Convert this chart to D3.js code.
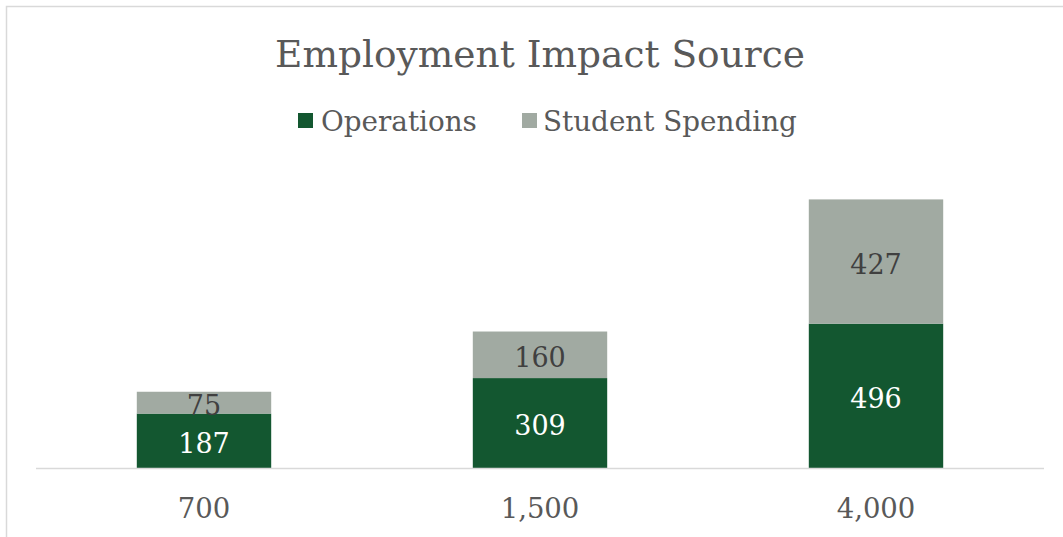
<!DOCTYPE html>
<html>
<head>
<meta charset="utf-8">
<script src="https://cdn.jsdelivr.net/npm/d3@7"></script>
<style>
  html, body { margin: 0; padding: 0; background: #ffffff; }
  svg { display: block; }
  text { font-family: "DejaVu Serif", "Liberation Serif", serif; }
</style>
</head>
<body>
<svg id="chart" width="1063" height="537"></svg>
<script>
// Employment by annual enrollment, split by source of impact
const categories = ["700", "1,500", "4,000"];
const seriesNames = ["Operations", "Student Spending"];
const operations = [187, 309, 496];
const studentSpending = [75, 160, 427];
const seriesColors = ["#135730", "#a1aaa2"];
const labelColors = ["#ffffff", "#404040"];

const width = 1063, height = 537;
const plot = { left: 36, right: 1044, top: 177, bottom: 468 };

const svg = d3.select("#chart");

// outer chart frame
svg.append("rect")
  .attr("x", 6.5).attr("y", 6.5)
  .attr("width", width + 20).attr("height", height + 20)
  .attr("fill", "#ffffff")
  .attr("stroke", "#d9d9d9")
  .attr("stroke-width", 1.5);

const rows = categories.map((c, i) => ({
  category: c,
  "Operations": operations[i],
  "Student Spending": studentSpending[i]
}));

const stacked = d3.stack().keys(seriesNames)(rows);

const x = d3.scaleBand()
  .domain(categories)
  .range([plot.left, plot.right])
  .paddingInner(0.6)
  .paddingOuter(0.3);

const y = d3.scaleLinear()
  .domain([0, 1000])
  .range([plot.bottom, plot.top]);

// title
svg.append("text")
  .attr("x", 540).attr("y", 67)
  .attr("text-anchor", "middle")
  .attr("fill", "#595959")
  .attr("font-size", 37.5)
  .text("Employment Impact Source");

// legend
const legend = svg.append("g");
const legendItems = [
  { name: seriesNames[0], color: seriesColors[0], sx: 298, tx: 321 },
  { name: seriesNames[1], color: seriesColors[1], sx: 522, tx: 543 }
];
legendItems.forEach(d => {
  legend.append("rect")
    .attr("x", d.sx).attr("y", 113)
    .attr("width", 15).attr("height", 15)
    .attr("fill", d.color);
  legend.append("text")
    .attr("x", d.tx).attr("y", 131)
    .attr("fill", "#595959")
    .attr("font-size", 27.8)
    .text(d.name);
});

// stacked bars
const layers = svg.append("g").selectAll("g")
  .data(stacked)
  .join("g")
  .attr("fill", (d, i) => seriesColors[i]);

layers.selectAll("rect")
  .data(d => d)
  .join("rect")
  .attr("x", d => x(d.data.category))
  .attr("width", x.bandwidth())
  .attr("y", d => y(d[1]))
  .attr("height", d => y(d[0]) - y(d[1]));

// category axis
const xAxis = svg.append("g")
  .attr("transform", `translate(0,${plot.bottom})`)
  .call(d3.axisBottom(x).tickSize(0).tickPadding(0));
xAxis.select(".domain")
  .attr("d", `M${plot.left},0.5H${plot.right}`)
  .attr("stroke", "#d9d9d9")
  .attr("stroke-width", 1.5);
xAxis.selectAll(".tick text")
  .attr("y", 40)
  .attr("dy", "0.35em")
  .attr("fill", "#595959")
  .attr("font-size", 27.5)
  .attr("font-family", "DejaVu Serif, serif");

// data labels centred in each segment
stacked.forEach((layer, i) => {
  svg.append("g").selectAll("text")
    .data(layer)
    .join("text")
    .attr("x", d => x(d.data.category) + x.bandwidth() / 2)
    .attr("y", d => (y(d[0]) + y(d[1])) / 2)
    .attr("dy", "0.45em")
    .attr("text-anchor", "middle")
    .attr("fill", labelColors[i])
    .attr("font-size", 27)
    .text(d => d[1] - d[0]);
});
</script>
</body>
</html>
